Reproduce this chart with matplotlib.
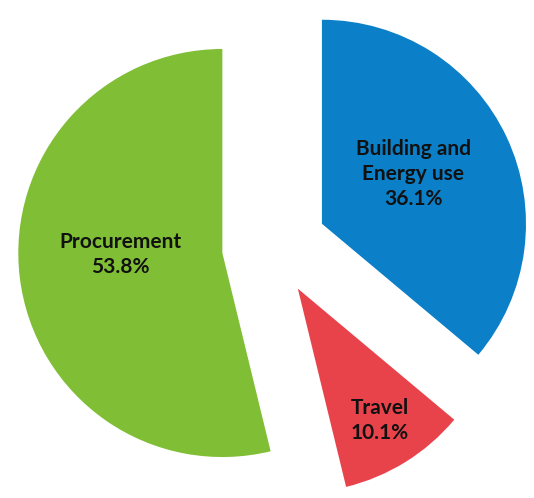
#!/usr/bin/env python3
import numpy as np
import matplotlib
matplotlib.use("Agg")
import matplotlib.pyplot as plt

# ----- data -----
labels = ["Building and\nEnergy use", "Travel", "Procurement"]
shares = [36.1, 10.1, 53.8]
colors = ["#0B7FC7", "#E8434B", "#7FBE35"]
explode = [0.27, 0.24, 0.245]

# label placement inside each slice (fraction of radius, angle tweak in deg)
label_dist = [0.51, 0.76, 0.50]
label_turn = [3.5, 0.0, -6.0]

plt.rcParams["font.family"] = ["Lato", "DejaVu Sans"]

fig = plt.figure(figsize=(5.34, 4.98), dpi=100)
ax = fig.add_axes([0, 0, 1, 1])

wedges, _ = ax.pie(shares, colors=colors, explode=explode, startangle=90,
                   counterclock=False, radius=1.0,
                   wedgeprops=dict(linewidth=0))

for w, lab, val, d, turn in zip(wedges, labels, shares, label_dist, label_turn):
    mid = np.deg2rad((w.theta1 + w.theta2) / 2 + turn)
    cx, cy = w.center
    ax.text(cx + d * np.cos(mid), cy + d * np.sin(mid), f"{lab}\n{val:.1f}%",
            ha="center", va="center", fontsize=15, fontweight="bold",
            color="#111111", linespacing=1.3)

# view window: pie radius ~204 px, centre near (272, 247) px
ax.set_xlim(-1.333, 1.284)
ax.set_ylim(-1.230, 1.211)
ax.set_aspect("auto")
ax.axis("off")

fig.savefig("out.png", dpi=100, facecolor="white")
plt.close(fig)
